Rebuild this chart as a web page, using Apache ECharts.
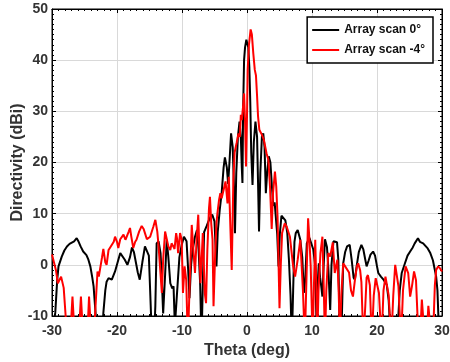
<!DOCTYPE html>
<html>
<head>
<meta charset="utf-8">
<script src="https://cdn.jsdelivr.net/npm/echarts@6/dist/echarts.min.js"></script>
<style>
html,body{margin:0;padding:0;background:#fff;}
#c{width:450px;height:362px;}
</style>
</head>
<body>
<div id="c"></div>
<script>
// ---- data (theta in deg, directivity in dBi) ----
var seriesNames = ['Array scan 0°', 'Array scan -4°'];
var xRange = [-30, 30];
var yRange = [-10, 50];

var scan0 = [
[-30,-15],[-29.8,-12],[-29.5,-9.4],[-29.2,-3],[-29.0,-0.3],[-28.5,1.6],[-28.1,2.8],[-27.7,3.6],[-27.3,4.1],[-27.0,4.2],[-26.6,4.6],[-26.2,5.2],[-25.9,4.5],[-25.6,3.6],[-25.2,2.6],[-24.7,1.9],[-24.4,1.0],[-24.1,-0.3],[-23.8,-2.5],[-23.6,-4.2],[-23.3,-9.4],[-23.0,-16],[-22.6,-20],[-22.3,-15],[-22.1,-9.4],[-21.8,-5],[-21.6,-3.3],[-21.3,-2.6],[-20.8,-2.9],[-20.3,-1.3],[-19.9,0.5],[-19.5,2.3],[-19.2,2.0],[-18.8,1.0],[-18.4,0],[-18.0,1.5],[-17.7,3.4],[-17.4,2.5],[-17.1,0.5],[-16.8,-1.5],[-16.5,-2.9],[-16.1,0.5],[-15.7,3.6],[-15.4,3.3],[-15.1,1.8],[-14.9,-5],[-14.7,-12],[-14.4,-18],[-14.1,-8],[-13.9,4.2],[-13.6,4.6],[-13.3,2.3],[-13.1,-3],[-12.9,-9.5],[-12.6,-2],[-12.35,4.9],[-12.1,1.5],[-11.8,-3.6],[-11.5,-4.6],[-11.3,-4.2],[-11.1,-12],[-10.8,-12],[-10.4,1.5],[-10.05,3.9],[-9.7,5.5],[-9.3,4.6],[-9.05,-1],[-8.85,-6.5],[-8.6,0],[-8.4,2.6],[-8.0,5.5],[-7.7,6.8],[-7.45,3],[-7.2,-4],[-7.0,-15],[-6.8,-4],[-6.6,6.4],[-6.2,7.6],[-5.9,8.6],[-5.6,9.4],[-5.35,9.8],[-5.0,8.5],[-4.85,4],[-4.7,-0.3],[-4.5,6.5],[-4.2,10.7],[-3.9,14],[-3.6,19],[-3.4,21],[-3.1,19],[-2.9,15.8],[-2.7,20],[-2.45,25.7],[-2.2,23],[-2.0,15],[-1.85,6.2],[-1.65,18],[-1.4,25],[-1.15,28],[-0.95,25],[-0.8,19],[-0.7,16],[-0.6,30],[-0.45,40],[-0.3,42.5],[-0.1,44],[0.05,44.1],[0.2,42.5],[0.36,38.7],[0.5,32],[0.65,22],[0.85,15.6],[1.05,24],[1.3,28],[1.55,25],[1.7,16],[1.85,6.5],[2.05,18],[2.3,25.2],[2.5,25.7],[2.7,23],[2.9,14],[3.1,18],[3.35,21.2],[3.6,20],[3.85,15],[4.05,11.5],[4.25,12.2],[4.45,12],[4.65,6],[4.85,-0.3],[5.05,6],[5.3,9.6],[5.6,9.8],[5.9,8.7],[6.2,6.2],[6.45,1],[6.7,-6],[6.9,-15],[7.1,-5],[7.3,4.5],[7.5,6.2],[7.8,6.8],[8.2,4.9],[8.5,1.5],[8.75,-5.5],[8.95,-3],[9.2,4.2],[9.6,5.3],[9.9,5.5],[10.2,3],[10.5,-0.3],[10.7,-12],[10.9,-3],[11.05,0.3],[11.25,-2.5],[11.45,-4.5],[11.6,-6.2],[11.8,0],[12.0,5],[12.3,3.5],[12.5,-0.3],[12.8,-8.8],[13.0,0],[13.3,4.6],[13.6,4.8],[13.85,4.4],[14.05,1],[14.3,-15],[14.6,-10],[14.8,0.3],[15.1,2.5],[15.4,3.6],[15.8,3.9],[16.1,1],[16.4,-2.5],[16.6,-2.9],[16.9,0],[17.2,2.5],[17.6,3.9],[17.9,3],[18.2,1],[18.4,-0.3],[18.7,0.8],[19.0,2],[19.4,2.6],[19.7,1.8],[20.0,-0.3],[20.2,-1.6],[20.6,-2.3],[21.0,-2.9],[21.3,-3.2],[21.5,-3.9],[21.8,-7],[22.0,-12],[22.6,-20],[23.2,-12],[23.5,-5],[23.8,-1.6],[24.3,0.3],[24.7,1.8],[25.1,2.6],[25.5,3.4],[25.8,4.2],[26.3,5.2],[26.6,4.5],[27.1,4.2],[27.4,3.9],[27.8,3.2],[28.2,2.3],[28.6,0.9],[28.9,-1],[29.1,-2.3],[29.3,-5],[29.5,-12],[30,-15]
];

var scanMinus4 = [
[-30,2],[-29.7,0.5],[-29.4,-1],[-29.1,-3.6],[-28.9,-3.9],[-28.6,-2.3],[-28.4,-2.5],[-28.2,-4.5],[-27.9,-10],[-27.5,-18],[-27.1,-12],[-26.85,-6.2],[-26.6,-12],[-26.2,-20],[-25.8,-12],[-25.55,-6.2],[-25.3,-12],[-24.8,-18],[-24.5,-12],[-24.3,-6.2],[-24.05,-12],[-23.6,-15],[-23.3,-8],[-23.0,-1.3],[-22.8,-2.3],[-22.6,-2.3],[-22.3,1.5],[-22.1,3.1],[-21.8,0.5],[-21.6,0],[-21.3,2.9],[-21.1,3.3],[-20.8,3],[-20.5,4.5],[-20.3,5.5],[-20.0,4.5],[-19.8,3.3],[-19.5,5],[-19.0,5.9],[-18.7,4.9],[-18.5,4.9],[-18.2,6.5],[-18.0,7.2],[-17.8,5.5],[-17.5,3.3],[-17.2,4.5],[-17.0,4.9],[-16.6,6.5],[-16.2,7.6],[-15.9,7.0],[-15.7,6.2],[-15.4,5.0],[-15.2,4.9],[-14.9,5.5],[-14.7,5.5],[-14.4,7.5],[-14.1,8.8],[-13.8,6.5],[-13.6,3.6],[-13.35,-1],[-13.1,-5.5],[-12.9,1],[-12.6,6.5],[-12.35,6.2],[-12.1,3.6],[-11.8,2.9],[-11.6,4.2],[-11.3,3.5],[-11.15,3.1],[-10.9,6.2],[-10.75,5],[-10.6,2.3],[-10.3,6.2],[-10.05,4.9],[-9.85,-5.5],[-9.6,-0.3],[-9.35,-3],[-9.1,-15],[-8.85,-5],[-8.5,7.8],[-8.2,2],[-8.0,-1.6],[-7.75,5],[-7.5,9.8],[-7.3,2],[-7.15,-3.6],[-6.8,6.2],[-6.5,-5.5],[-6.3,-7.5],[-6.1,2.9],[-5.85,11],[-5.7,13.3],[-5.5,8],[-5.3,4.9],[-5.15,-8.1],[-4.9,2],[-4.7,8.1],[-4.55,10.1],[-4.3,12.7],[-4.1,14],[-3.9,13],[-3.7,13.3],[-3.3,16.3],[-3.0,12],[-2.8,17.2],[-2.6,17.3],[-2.35,-1],[-2.1,16.6],[-1.9,22],[-1.6,23.8],[-1.3,25.7],[-1.1,25],[-0.95,29.3],[-0.8,28.3],[-0.6,31],[-0.45,33.5],[-0.3,28],[-0.15,19.2],[0.0,29],[0.1,38],[0.3,43],[0.56,46],[0.75,45],[0.97,41.3],[1.2,38.1],[1.38,37],[1.55,33],[1.7,29],[1.9,26.4],[2.3,25.4],[2.6,24.4],[3.0,21.8],[3.3,20.5],[3.55,15],[3.8,7],[4.0,14],[4.3,18.2],[4.5,15.3],[4.7,9.4],[5.0,-8.5],[5.2,0],[5.4,6.2],[5.8,8.1],[6.1,7.5],[6.4,7.5],[6.6,5.5],[6.9,2],[7.1,-0.3],[7.4,-2.3],[7.8,1],[8.2,4.9],[8.6,-4.9],[8.9,-15],[9.1,-5],[9.4,9.1],[9.6,5],[9.8,-0.3],[10.1,-15],[10.3,-4],[10.5,4.9],[10.65,-3],[10.8,-15],[11.0,-5],[11.3,2.3],[11.6,5.5],[11.8,-4],[12.0,-15],[12.2,-5],[12.5,2.3],[12.8,1.6],[13.2,4.4],[13.5,-1.6],[13.9,1],[14.1,-5],[14.3,-15],[14.5,-6],[14.8,0.3],[15.1,-0.3],[15.4,0],[15.7,-1.5],[16.0,-5],[16.3,-6.2],[16.6,-3],[16.9,-0.3],[17.1,0.3],[17.4,-1],[17.6,-3.4],[17.9,-15],[18.2,-8],[18.4,-2.5],[18.6,-2.0],[18.9,-4],[19.2,-15],[19.5,-6],[19.8,-2.6],[20.0,-2.6],[20.3,-5.5],[20.7,-15],[21.0,-5],[21.3,-2.3],[21.5,-2.3],[21.8,-6],[22.2,-15],[22.5,-6],[22.8,0],[23.0,0],[23.3,-4.2],[23.7,-15],[24.0,-5],[24.4,-0.3],[24.8,-1.6],[25.1,-6.2],[25.4,-4],[25.7,-1.3],[26.0,-3],[26.3,-12],[26.5,-18],[26.9,-6.8],[27.2,-12],[27.5,-18],[27.9,-8],[28.2,-12],[28.6,-15],[28.9,-4],[29.1,-1.0],[29.4,-0.3],[29.7,-0.7],[30,-1.3]
];

var chart = echarts.init(document.getElementById('c'), null, {renderer:'canvas'});
var font = 'Liberation Sans, Arial, sans-serif';
var tickStyle = {color:'#000', width:1};
chart.setOption({
  animation:false,
  backgroundColor:'#fff',
  grid:{left:52, right:8, top:9, bottom:46, containLabel:false, outerBoundsMode:'none',
        show:true, borderColor:'#000', borderWidth:1, backgroundColor:'transparent'},
  legend:{
    data:seriesNames,
    orient:'vertical',
    right:17, top:17,
    backgroundColor:'#fff',
    borderColor:'#000', borderWidth:1.5,
    padding:[7,8,7,5],
    itemGap:8,
    itemWidth:27, itemHeight:2,
    icon:'rect',
    textStyle:{fontFamily:font, fontWeight:'bold', fontSize:12, color:'#111'}
  },
  xAxis:[{
    type:'value', min:xRange[0], max:xRange[1], interval:10,
    name:'Theta (deg)', nameLocation:'middle', nameGap:22,
    nameTextStyle:{fontFamily:font, fontWeight:'bold', fontSize:16, color:'#333'},
    axisLine:{show:true, onZero:false, lineStyle:{color:'#000'}},
    axisTick:{inside:true, length:4, lineStyle:tickStyle},
    minorTick:{show:true, splitNumber:10, length:2, lineStyle:tickStyle},
    axisLabel:{fontFamily:font, fontWeight:'bold', fontSize:14, color:'#333', margin:8},
    splitLine:{show:true, lineStyle:{color:'#d9d9d9', width:1}}
  },{
    type:'value', position:'top', min:xRange[0], max:xRange[1], interval:10,
    axisLine:{show:true, onZero:false, lineStyle:{color:'#000'}},
    axisTick:{inside:true, length:4, lineStyle:tickStyle},
    minorTick:{show:true, splitNumber:10, length:2, lineStyle:tickStyle},
    axisLabel:{show:false}, splitLine:{show:false}
  }],
  yAxis:[{
    type:'value', min:yRange[0], max:yRange[1], interval:10,
    name:'Directivity (dBi)', nameLocation:'middle', nameGap:26, nameRotate:90,
    nameMoveOverlap:false,
    nameTextStyle:{fontFamily:font, fontWeight:'bold', fontSize:16, color:'#333'},
    axisLine:{show:true, onZero:false, lineStyle:{color:'#000'}},
    axisTick:{inside:true, length:4, lineStyle:tickStyle},
    minorTick:{show:true, splitNumber:10, length:2, lineStyle:tickStyle},
    axisLabel:{fontFamily:font, fontWeight:'bold', fontSize:14, color:'#333', margin:4},
    splitLine:{show:true, lineStyle:{color:'#d9d9d9', width:1}}
  },{
    type:'value', position:'right', min:yRange[0], max:yRange[1], interval:10,
    axisLine:{show:true, onZero:false, lineStyle:{color:'#000'}},
    axisTick:{inside:true, length:4, lineStyle:tickStyle},
    minorTick:{show:true, splitNumber:10, length:2, lineStyle:tickStyle},
    axisLabel:{show:false}, splitLine:{show:false}
  }],
  series:[
    {name:seriesNames[0], type:'line', data:scan0, showSymbol:false, symbol:'none', clip:true,
     lineStyle:{color:'#000', width:2}, itemStyle:{color:'#000'}},
    {name:seriesNames[1], type:'line', data:scanMinus4, showSymbol:false, symbol:'none', clip:true,
     lineStyle:{color:'#ff0000', width:2}, itemStyle:{color:'#ff0000'}}
  ]
});
</script>
</body>
</html>
